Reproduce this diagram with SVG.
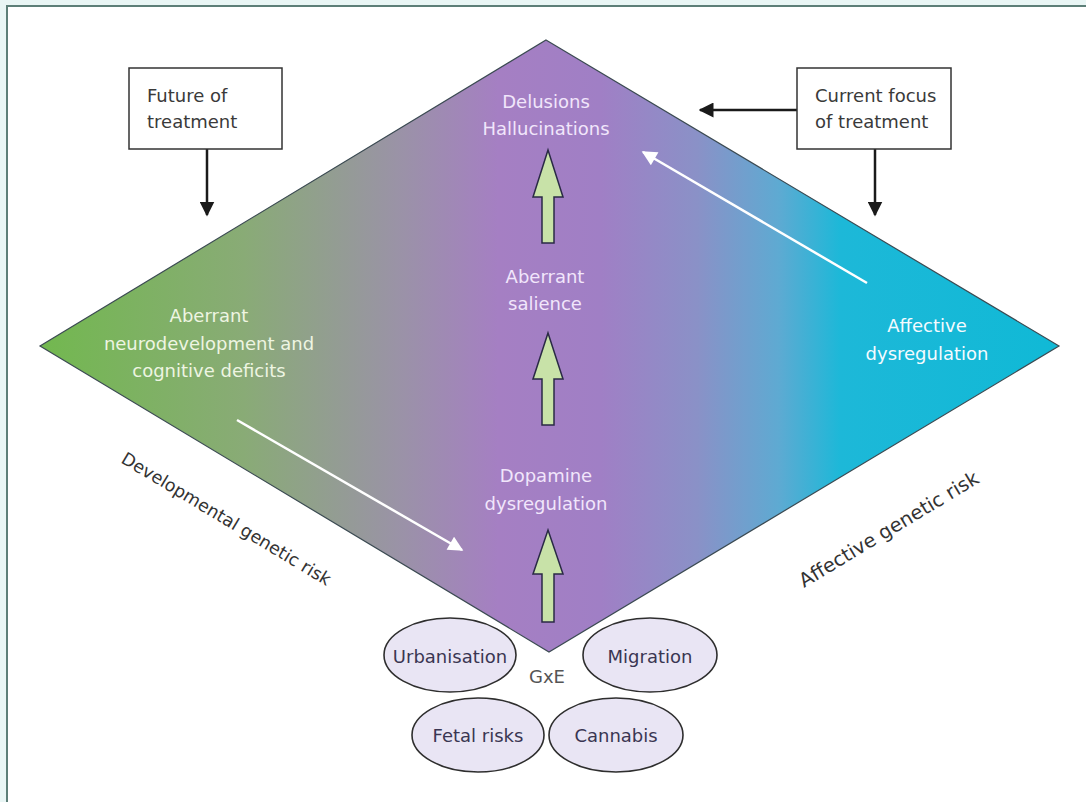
<svg xmlns="http://www.w3.org/2000/svg" width="1086" height="802" viewBox="0 0 1086 802">
<defs>
<linearGradient id="dg" gradientUnits="userSpaceOnUse" x1="40" y1="0" x2="1059" y2="0">
<stop offset="0" stop-color="#72b84f"/>
<stop offset="0.2" stop-color="#89ab76"/>
<stop offset="0.35" stop-color="#9a93a6"/>
<stop offset="0.45" stop-color="#a57fc3"/>
<stop offset="0.55" stop-color="#a07fc5"/>
<stop offset="0.645" stop-color="#8a91c7"/>
<stop offset="0.725" stop-color="#5eaad2"/>
<stop offset="0.785" stop-color="#1db8d8"/>
<stop offset="1" stop-color="#10b9d6"/>
</linearGradient>
<marker id="blk" viewBox="0 0 10 10" refX="9" refY="5" markerWidth="6" markerHeight="6" markerUnits="strokeWidth" orient="auto">
<path d="M0,0 L10,5 L0,10 Z" fill="#1a1a1a"/>
</marker>
<marker id="wht" viewBox="0 0 10 10" refX="9" refY="5" markerWidth="7" markerHeight="6" markerUnits="strokeWidth" orient="auto">
<path d="M0,0 L10,5 L0,10 Z" fill="#ffffff"/>
</marker>
</defs>
<style>
.t{font-family:"DejaVu Sans",sans-serif;font-size:18px}
.lt{fill:#f1e6fb;text-anchor:middle}
.box{fill:#ffffff;stroke:#333333;stroke-width:1.5}
.bt{fill:#3a3a3a}
.ell{fill:#e9e5f4;stroke:#2e2e2e;stroke-width:1.6}
.et{fill:#3a3652;text-anchor:middle}
.conn{stroke:#1a1a1a;stroke-width:2.5;fill:none}
.wl{stroke:#ffffff;stroke-width:2.5;fill:none}
.ga{fill:#c8e2a8;stroke:#2a2a45;stroke-width:1.5}
.side{fill:#333333;font-size:17.5px}
</style>
<rect x="0" y="0" width="1086" height="802" fill="#e9f6f5"/>
<rect x="7" y="6" width="1090" height="800" fill="#ffffff" stroke="#5d7f78" stroke-width="2"/>

<g id="diamond">
<path d="M546,40 L1059,346 L549,652 L40,346 Z" fill="url(#dg)" stroke="#3b4a52" stroke-width="1.2"/>
</g>

<g id="connectors">
<line class="conn" x1="207" y1="149" x2="207" y2="215" marker-end="url(#blk)"/>
<line class="conn" x1="875" y1="149" x2="875" y2="215" marker-end="url(#blk)"/>
<line class="conn" x1="797" y1="110" x2="700" y2="110" marker-end="url(#blk)"/>
<line class="wl" x1="237" y1="420" x2="462" y2="550" marker-end="url(#wht)"/>
<line class="wl" x1="867" y1="283" x2="643" y2="152" marker-end="url(#wht)"/>
<path class="ga" d="M548,150 L563,197 L554,197 L554,243 L542,243 L542,197 L533,197 Z"/>
<path class="ga" d="M548,333 L563,379 L554,379 L554,425 L542,425 L542,379 L533,379 Z"/>
<path class="ga" d="M548,530 L563,574 L554,574 L554,622 L542,622 L542,574 L533,574 Z"/>
</g>

<g id="future">
<rect class="box" x="129" y="68" width="153" height="81"/>
<text class="t bt" x="147" y="102">Future of</text>
<text class="t bt" x="147" y="128">treatment</text>
</g>
<g id="current">
<rect class="box" x="797" y="68" width="154" height="81"/>
<text class="t bt" x="815" y="102">Current focus</text>
<text class="t bt" x="815" y="128">of treatment</text>
</g>

<g id="delusions">
<text class="t lt" x="546" y="108">Delusions</text>
<text class="t lt" x="546" y="135">Hallucinations</text>
</g>
<g id="salience">
<text class="t lt" x="545" y="283">Aberrant</text>
<text class="t lt" x="545" y="310">salience</text>
</g>
<g id="dopamine">
<text class="t lt" x="546" y="482">Dopamine</text>
<text class="t lt" x="546" y="510">dysregulation</text>
</g>
<g id="neurodev">
<text class="t" x="209" y="322" fill="#eef5e2" text-anchor="middle">Aberrant</text>
<text class="t" x="209" y="350" fill="#eef5e2" text-anchor="middle">neurodevelopment and</text>
<text class="t" x="209" y="377" fill="#eef5e2" text-anchor="middle">cognitive deficits</text>
</g>
<g id="affective">
<text class="t" x="927" y="332" fill="#f4fbff" text-anchor="middle">Affective</text>
<text class="t" x="927" y="360" fill="#f4fbff" text-anchor="middle">dysregulation</text>
</g>

<g id="devrisk">
<text class="t side" transform="translate(120,462) rotate(31)">Developmental genetic risk</text>
</g>
<g id="affrisk">
<text class="t side" font-size="19.5" style="font-size:19.5px" transform="translate(804,588) rotate(-31)">Affective genetic risk</text>
</g>

<g id="urbanisation">
<ellipse class="ell" cx="450" cy="655" rx="66" ry="37"/>
<text class="t et" x="450" y="663">Urbanisation</text>
</g>
<g id="migration">
<ellipse class="ell" cx="650" cy="655" rx="67" ry="37"/>
<text class="t et" x="650" y="663">Migration</text>
</g>
<g id="fetal">
<ellipse class="ell" cx="478" cy="735" rx="66" ry="37"/>
<text class="t et" x="478" y="742">Fetal risks</text>
</g>
<g id="cannabis">
<ellipse class="ell" cx="616" cy="735" rx="67" ry="37"/>
<text class="t et" x="616" y="742">Cannabis</text>
</g>
<g id="gxe">
<text class="t" x="547" y="683" fill="#555555" font-size="17" text-anchor="middle">GxE</text>
</g>
</svg>
